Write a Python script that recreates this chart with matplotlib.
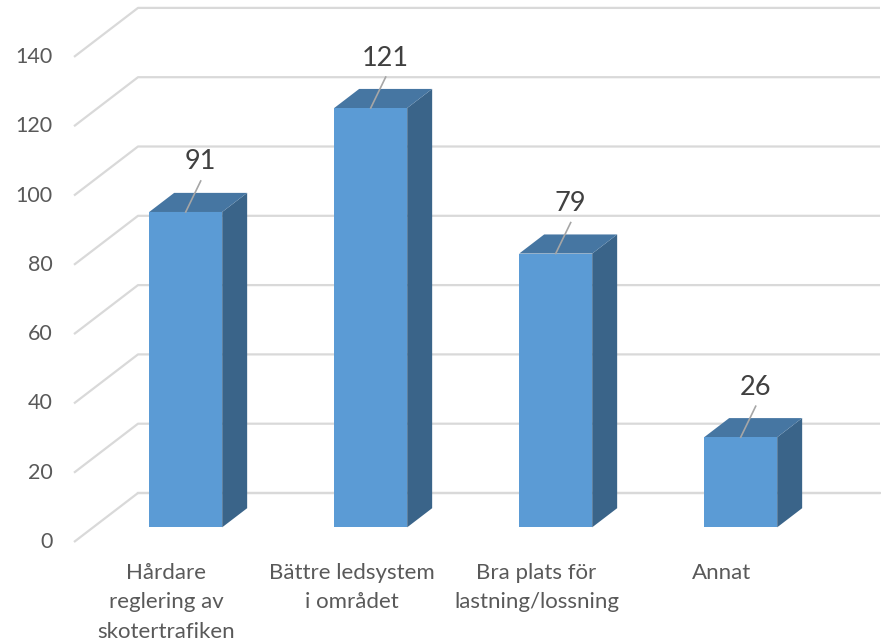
import numpy as np
import matplotlib.pyplot as plt
from matplotlib.patches import Polygon

# Answers per category
categories = ["Hårdare\nreglering av\nskotertrafiken",
              "Bättre ledsystem\ni området",
              "Bra plats för\nlastning/lossning",
              "Annat"]
counts = [91, 121, 79, 26]
yticks = [0, 20, 40, 60, 80, 100, 120, 140]

plt.rcParams['font.family'] = ['Lato', 'DejaVu Sans']

# pixel scale of the plot: one category = 185 px, one unit = 3.465 px
px_x = 185.0
px_y = 3.465
DX = 64 / px_x      # depth of the floor, in category units
DY = 49 / px_y      # depth of the floor, in value units
f0 = 0.30           # where the bars start in depth
bd = 0.39           # bar depth share
w = 73 / px_x       # bar width

front = "#5B9BD5"
top = "#4676A2"
side = "#3A6489"
grid = "#D9D9D9"

fig = plt.figure(figsize=(8.81, 6.4), dpi=100)
ax = fig.add_axes([0, 0, 1, 1])
ax.set_xlim(-74 / px_x, (881 - 74) / px_x)
ax.set_ylim((542 - 640) / px_y, 542 / px_y)
ax.axis("off")

# gridlines: diagonal on the side wall, then along the back wall
xback = (880 - 74) / px_x
for v in yticks:
    ax.plot([0, DX, xback], [v, v + DY, v + DY], color=grid, lw=1.6,
            solid_capstyle="butt", zorder=1)
    ax.text(-0.115, v, str(v), ha="right", va="center", fontsize=15.5,
            color="#595959")

ax.plot([DX, xback], [DY, DY], color=grid, lw=1.6, zorder=1)

for i, (v, lab) in enumerate(zip(counts, categories)):
    x0 = i + 0.5 - w / 2 + f0 * DX
    y0 = f0 * DY
    bx, by = bd * DX, bd * DY
    # side face
    ax.add_patch(Polygon([(x0 + w, y0), (x0 + w + bx, y0 + by),
                          (x0 + w + bx, y0 + v + by), (x0 + w, y0 + v)],
                         closed=True, facecolor=side, edgecolor="none", zorder=3))
    # top face
    ax.add_patch(Polygon([(x0, y0 + v), (x0 + w, y0 + v),
                          (x0 + w + bx, y0 + v + by), (x0 + bx, y0 + v + by)],
                         closed=True, facecolor=top, edgecolor="none", zorder=3))
    # front face
    ax.add_patch(Polygon([(x0, y0), (x0 + w, y0), (x0 + w, y0 + v), (x0, y0 + v)],
                         closed=True, facecolor=front, edgecolor="none", zorder=4))

    # data label with leader line
    cx = x0 + w / 2
    ax.plot([cx, cx + 15 / px_x], [y0 + v, y0 + v + 31 / px_y],
            color="#A6A6A6", lw=1.2, zorder=5)
    ax.text(cx + 15 / px_x, y0 + v + 50 / px_y, str(v), ha="center",
            va="center", fontsize=19.5, color="#404040", zorder=6)

    # category label
    ax.text(i + 0.5, -(563 - 542) / px_y, lab, ha="center", va="top",
            fontsize=16, color="#595959", linespacing=1.58)

fig.savefig("out.png", dpi=100, facecolor="white")
